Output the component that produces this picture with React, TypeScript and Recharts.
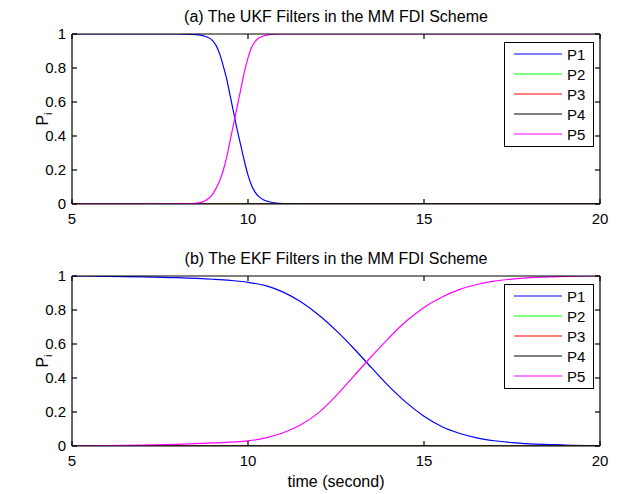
import React from 'react';
import { LineChart, Line, XAxis, YAxis, Legend } from 'recharts';

const xTicks = [5, 10, 15, 20];
const yTicks = [0, 0.2, 0.4, 0.6, 0.8, 1];
const seriesNames = ['P1', 'P2', 'P3', 'P4', 'P5'];
const seriesColors = ['#0000ff', '#00ff00', '#ff0000', '#000000', '#ff00ff'];
const titleA = '(a) The UKF Filters in the MM FDI Scheme';
const titleB = '(b) The EKF Filters in the MM FDI Scheme';
const xLabel = 'time (second)';

// (a) UKF
const ukfTime = [5, 6, 7, 8, 8.4, 8.6, 8.8, 9, 9.1, 9.2, 9.3, 9.4, 9.5, 9.6, 9.7, 9.8, 9.9, 10, 10.1, 10.2, 10.3, 10.45, 10.6, 10.8, 11, 11.5, 12, 14, 16, 18, 20];
const ukfP1 = [1, 1, 1, 1, 0.998, 0.995, 0.985, 0.96, 0.93, 0.88, 0.81, 0.73, 0.63, 0.53, 0.43, 0.34, 0.25, 0.17, 0.11, 0.07, 0.045, 0.024, 0.013, 0.005, 0.002, 0, 0, 0, 0, 0, 0];
const ukfP2 = [0, 0, 0, 0, 0, 0, 0, 0, 0, 0, 0, 0, 0, 0, 0, 0, 0, 0, 0, 0, 0, 0, 0, 0, 0, 0, 0, 0, 0, 0, 0];
const ukfP3 = [0, 0, 0, 0, 0, 0, 0, 0, 0, 0, 0, 0, 0, 0, 0, 0, 0, 0, 0, 0, 0, 0, 0, 0, 0, 0, 0, 0, 0, 0, 0];
const ukfP4 = [0, 0, 0, 0, 0, 0, 0, 0, 0, 0, 0, 0, 0, 0, 0, 0, 0, 0, 0, 0, 0, 0, 0, 0, 0, 0, 0, 0, 0, 0, 0];
const ukfP5 = [0, 0, 0, 0.001, 0.002, 0.007, 0.02, 0.06, 0.095, 0.14, 0.2, 0.28, 0.38, 0.48, 0.58, 0.68, 0.78, 0.86, 0.92, 0.955, 0.975, 0.99, 0.996, 0.999, 1, 1, 1, 1, 1, 1, 1];

// (b) EKF
const ekfTime = [5, 6, 7, 8, 9, 9.5, 10, 10.5, 11, 11.5, 12, 12.5, 13, 13.5, 14, 14.5, 15, 15.5, 16, 16.5, 17, 17.5, 18, 19, 20];
const ekfP1 = [1, 0.998, 0.995, 0.99, 0.981, 0.974, 0.963, 0.943, 0.905, 0.848, 0.772, 0.68, 0.575, 0.462, 0.352, 0.255, 0.175, 0.115, 0.075, 0.048, 0.031, 0.02, 0.013, 0.006, 0.003];
const ekfP2 = [0, 0, 0, 0, 0, 0, 0, 0, 0, 0, 0, 0, 0, 0, 0, 0, 0, 0, 0, 0, 0, 0, 0, 0, 0];
const ekfP3 = [0, 0, 0, 0, 0, 0, 0, 0, 0, 0, 0, 0, 0, 0, 0, 0, 0, 0, 0, 0, 0, 0, 0, 0, 0];
const ekfP4 = [0, 0, 0, 0, 0, 0, 0, 0, 0, 0, 0, 0, 0, 0, 0, 0, 0, 0, 0, 0, 0, 0, 0, 0, 0];
const ekfP5 = [0, 0.002, 0.005, 0.01, 0.018, 0.023, 0.03, 0.048, 0.078, 0.125, 0.195, 0.295, 0.41, 0.525, 0.635, 0.735, 0.815, 0.875, 0.92, 0.95, 0.97, 0.982, 0.99, 0.997, 1];

const FONT = '"Liberation Sans", Arial, Helvetica, sans-serif';

function buildRows(time: number[], cols: number[][]) {
  return time.map((t, i) => {
    const row: Record<string, number> = { t };
    seriesNames.forEach((n, k) => {
      row[n] = cols[k][i];
    });
    return row;
  });
}

const ukfRows = buildRows(ukfTime, [ukfP1, ukfP2, ukfP3, ukfP4, ukfP5]);
const ekfRows = buildRows(ekfTime, [ekfP1, ekfP2, ekfP3, ekfP4, ekfP5]);

const LegendBox = () => (
  <div
    style={{
      width: 90,
      height: 105,
      boxSizing: 'border-box',
      border: '1px solid #000',
      background: '#fff',
    }}
  >
    <svg width={88} height={103} style={{ display: 'block' }}>
      {seriesNames.map((n, i) => (
        <g key={n}>
          <line x1={9} x2={57} y1={11 + i * 20} y2={11 + i * 20} stroke={seriesColors[i]} strokeWidth={1.2} />
          <text x={62} y={11 + i * 20 + 5.5} fontSize={15} fontFamily={FONT} fill="#000">
            {n}
          </text>
        </g>
      ))}
    </svg>
  </div>
);

const YLabel = (props: any) => {
  const vb = props && props.viewBox ? props.viewBox : null;
  const cy = vb && typeof vb.y === 'number' ? vb.y + vb.height / 2 : 119;
  const cx = 48;
  return (
    <text
      x={cx}
      y={cy}
      transform={`rotate(-90 ${cx} ${cy})`}
      textAnchor="middle"
      fontSize={16}
      fontFamily={FONT}
      fill="#000"
    >
      P<tspan dy={4} fontSize={11}>i</tspan>
    </text>
  );
};

const XLabel = () => (
  <text x={336} y={247} textAnchor="middle" fontSize={16} fontFamily={FONT} fill="#000">
    {xLabel}
  </text>
);

const XTick = (props: any) => (
  <text x={props.x} y={props.y} dy="0.71em" textAnchor="middle" fontSize={15} fontFamily={FONT} fill="#000">
    {props.payload.value}
  </text>
);

const YTick = (props: any) => (
  <text x={props.x} y={props.y} dy="0.355em" textAnchor="end" fontSize={15} fontFamily={FONT} fill="#000">
    {props.payload.value}
  </text>
);

type PanelProps = {
  rows: Record<string, number>[];
  height: number;
  marginTop: number;
  marginBottom: number;
  legendTop: number;
  withXLabel: boolean;
};

const axisStroke = { stroke: '#000', strokeWidth: 1.2 };

const Panel = ({ rows, height, marginTop, marginBottom, legendTop, withXLabel }: PanelProps) => (
  <LineChart
    width={625}
    height={height}
    data={rows}
    margin={{ top: marginTop - 1, right: 24, bottom: marginBottom, left: 32 }}
    style={{ fontFamily: FONT }}
  >
    <XAxis
      dataKey="t"
      type="number"
      domain={[5, 20]}
      ticks={xTicks}
      allowDataOverflow
      height={30}
      tickSize={-5}
      tickMargin={14}
      tick={<XTick />}
      axisLine={axisStroke}
      tickLine={axisStroke}
      label={withXLabel ? <XLabel /> : undefined}
    />
    <XAxis
      xAxisId="top"
      dataKey="t"
      orientation="top"
      type="number"
      domain={[5, 20]}
      ticks={xTicks}
      allowDataOverflow
      height={1}
      tickSize={-5}
      tickFormatter={() => ''}
      axisLine={axisStroke}
      tickLine={axisStroke}
    />
    <YAxis
      type="number"
      domain={[0, 1]}
      ticks={yTicks}
      allowDataOverflow
      width={40}
      tickSize={-5}
      tickMargin={11}
      tick={<YTick />}
      axisLine={axisStroke}
      tickLine={axisStroke}
      label={(p: any) => <YLabel {...p} />}
    />
    <YAxis
      yAxisId="right"
      orientation="right"
      type="number"
      domain={[0, 1]}
      ticks={yTicks}
      allowDataOverflow
      width={1}
      tickSize={-5}
      tickFormatter={() => ''}
      axisLine={axisStroke}
      tickLine={axisStroke}
    />
    <Line
      xAxisId="top"
      yAxisId="right"
      dataKey="P2"
      stroke="none"
      dot={false}
      activeDot={false}
      legendType="none"
      isAnimationActive={false}
    />
    {seriesNames.map((n, i) => (
      <Line
        key={n}
        dataKey={n}
        name={n}
        type="monotone"
        stroke={seriesColors[i]}
        strokeWidth={1.2}
        dot={false}
        activeDot={false}
        isAnimationActive={false}
      />
    ))}
    <Legend
      layout="vertical"
      align="center"
      verticalAlign="middle"
      content={() => <LegendBox />}
      wrapperStyle={{ position: 'absolute', left: 504, top: legendTop, width: 90, height: 105 }}
    />
  </LineChart>
);

export default function App() {
  return (
    <div style={{ position: 'absolute', left: 0, top: 0, width: 625, height: 494, background: '#fff' }}>
      <div style={{ position: 'absolute', left: 0, top: 0 }}>
        <Panel rows={ukfRows} height={240} marginTop={34} marginBottom={6} legendTop={42} withXLabel={false} />
      </div>
      <div style={{ position: 'absolute', left: 0, top: 240 }}>
        <Panel rows={ekfRows} height={254} marginTop={36} marginBottom={18} legendTop={44} withXLabel={true} />
      </div>
      <svg
        width={625}
        height={40}
        style={{ position: 'absolute', left: 0, top: 0, pointerEvents: 'none' }}
      >
        <text x={336} y={22} textAnchor="middle" fontSize={16} fontFamily={FONT} fill="#000">
          {titleA}
        </text>
      </svg>
      <svg
        width={625}
        height={40}
        style={{ position: 'absolute', left: 0, top: 242, pointerEvents: 'none' }}
      >
        <text x={336} y={22} textAnchor="middle" fontSize={16} fontFamily={FONT} fill="#000">
          {titleB}
        </text>
      </svg>
    </div>
  );
}
